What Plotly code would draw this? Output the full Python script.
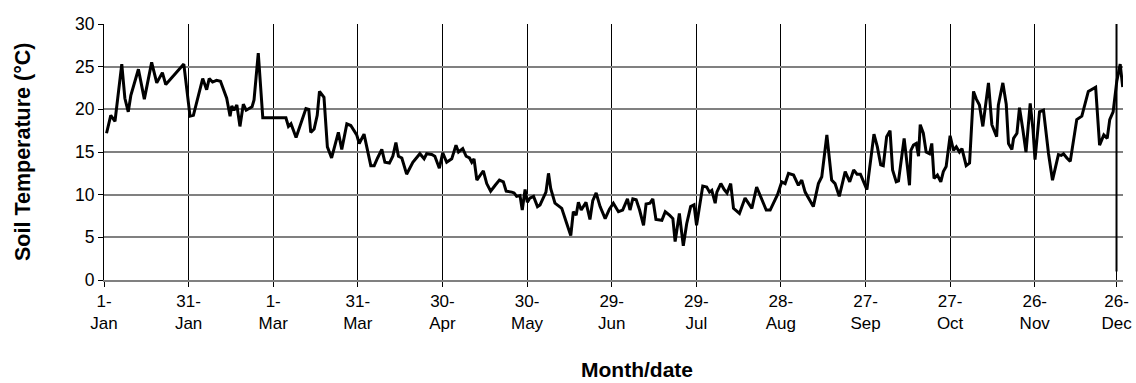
import plotly.graph_objects as go

# Daily soil temperature readings (day of year counted from 1 Jan, leap year)
days = [
    0.9, 2.4, 3.9, 6.3, 7.4, 8.6, 9.5, 12.2, 14.3, 16.9, 18.7, 20.7, 21.9, 28.3,
    30.5, 31.7, 35.0, 36.4, 37.3, 38.5, 39.9, 41.3, 43.5, 44.7, 45.3, 46.1, 47.1,
    48.2, 49.4, 50.4, 52.5, 53.2, 54.7, 56.3, 64.5, 65.4, 66.3, 68.1, 71.6, 72.6,
    73.3, 74.5, 75.6, 76.4, 78.0, 79.2, 80.7, 82.2, 83.1, 84.3, 86.1, 87.5, 89.6,
    90.5, 92.2, 94.6, 95.8, 97.0, 98.5, 99.6, 101.2, 102.4, 103.5, 104.4, 105.6,
    107.3, 109.5, 112.0, 113.5, 114.4, 116.2, 117.3, 118.9, 120.1, 121.5, 123.3,
    124.8, 125.7, 127.2, 128.4, 129.6, 130.4, 131.2, 132.2, 133.5, 134.5, 135.7,
    137.1, 138.7, 140.2, 141.6, 142.6, 144.6, 145.4, 146.3, 147.5, 148.3, 149.3,
    150.1, 151.0, 152.3, 153.7, 154.6, 156.0, 156.7, 157.6, 158.4, 159.9, 162.3,
    164.1, 165.5, 166.4, 167.4, 168.2, 169.2, 170.9, 172.3, 173.3, 174.5, 175.9,
    177.7, 179.2, 180.6, 182.4, 183.9, 185.6, 186.5, 187.5, 188.7, 189.9, 191.3,
    192.2, 193.6, 194.6, 195.7, 197.8, 199.0, 200.5, 201.7, 202.5, 204.0, 205.4,
    206.6, 208.0, 209.2, 210.1, 212.3, 213.7, 214.7, 215.5, 216.7, 217.3, 218.7,
    219.9, 220.9, 222.2, 223.2, 225.3, 227.3, 229.7, 231.4, 234.8, 236.2, 238.8,
    240.3, 241.5, 242.7, 244.5, 246.2, 247.4, 248.6, 251.5, 253.3, 254.5, 256.3,
    258.0, 259.2, 260.7, 262.8, 264.4, 265.8, 267.0, 268.2, 270.5, 273.0, 274.2,
    275.4, 276.3, 277.5, 278.7, 279.6, 280.9, 281.7, 283.7, 285.6, 286.1, 287.0,
    288.0, 288.8, 289.4, 290.5, 291.5, 292.7, 293.5, 294.3, 295.5, 296.7, 297.6,
    298.6, 300.0, 301.2, 302.2, 303.3, 304.2, 305.7, 306.9, 308.3, 309.3, 310.4,
    311.6, 313.6, 314.8, 316.5, 317.1, 318.7, 319.9, 320.7, 321.9, 322.5, 323.7,
    324.6, 325.8, 326.9, 328.4, 329.4, 330.1, 331.7, 333.1, 334.9, 336.3, 337.6,
    338.4, 339.4, 340.2, 341.4, 342.6, 344.9, 346.7, 349.0, 350.8, 351.6, 353.0,
    354.5, 355.7, 356.6, 357.8, 359.1, 360.3, 361.2,
]
temps = [
    17.2, 19.3, 18.6, 25.3, 21.3, 19.7, 21.6, 24.7, 21.2, 25.5, 23.1, 24.3, 22.9, 25.3,
    19.2, 19.3, 23.6, 22.3, 23.6, 23.2, 23.4, 23.3, 21.3, 19.2, 20.4, 19.9, 20.5,
    18.0, 20.6, 19.9, 20.3, 21.1, 26.6, 19.0, 19.0, 18.0, 18.3, 16.7, 20.1, 20.0,
    17.3, 17.7, 19.3, 22.1, 21.4, 15.6, 14.3, 16.2, 17.3, 15.3, 18.3, 18.1, 17.0,
    16.0, 17.1, 13.4, 13.4, 14.3, 15.3, 13.8, 13.7, 14.5, 16.1, 14.5, 14.3,
    12.4, 13.8, 14.8, 14.2, 14.8, 14.7, 14.5, 13.1, 14.9, 13.8, 14.2,
    15.8, 15.0, 15.4, 14.5, 14.3, 13.8, 14.2, 11.7, 12.3, 12.8, 11.3,
    10.4, 11.1, 11.7, 11.5, 10.4, 10.3, 10.2, 9.8, 9.9, 8.2, 10.6,
    9.1, 9.6, 9.8, 8.6, 8.8, 9.8, 10.3, 12.5, 10.7, 9.0, 8.4,
    6.6, 5.2, 8.0, 7.6, 9.1, 8.2, 9.1, 7.1, 9.3, 10.2, 8.6,
    7.2, 8.3, 9.0, 8.0, 8.2, 9.5, 8.2, 9.5, 9.4, 8.2, 6.4,
    8.9, 9.0, 9.5, 7.1, 7.0, 8.0, 7.6, 7.2, 4.5, 7.8, 4.0,
    6.6, 8.6, 8.8, 6.4, 11.0, 10.9, 10.3, 10.5, 9.0, 10.3, 11.3,
    10.6, 10.2, 11.3, 8.4, 7.8, 9.6, 8.4, 10.9, 8.2, 8.2, 10.0,
    11.5, 11.3, 12.5, 12.3, 11.1, 11.7, 10.3, 8.6, 11.3, 12.1, 17.0,
    11.7, 11.3, 9.8, 12.7, 11.5, 12.9, 12.4, 12.4, 10.6, 17.1, 15.6,
    13.5, 13.4, 16.8, 17.5, 12.9, 11.5, 11.6, 16.6, 11.1, 15.2, 15.8,
    16.0, 14.5, 18.2, 17.2, 15.0, 14.8, 16.0, 11.9, 12.3, 11.5, 12.7,
    13.3, 16.9, 15.2, 15.6, 15.0, 15.4, 13.4, 13.7, 22.1, 21.2, 20.5,
    18.0, 23.1, 18.2, 16.8, 20.5, 23.1, 20.6, 16.0, 15.3, 16.6, 17.2,
    20.2, 17.6, 15.0, 20.7, 17.6, 14.1, 19.7, 19.9, 14.8, 11.7, 13.7,
    14.7, 14.6, 14.8, 14.3, 13.9, 18.8, 19.2, 22.1, 22.4, 22.6, 15.8,
    17.0, 16.6, 18.8, 19.7, 23.3, 25.3, 22.6,
]

# Vertical marker line on 26 Dec
marker_days = [359, 359]
marker_temps = [30, 1]

# Date axis: a labelled tick every 30 days
tick_days = [0, 30, 60, 90, 120, 150, 180, 210, 240, 270, 300, 330, 359]
tick_labels = ["1-<br>Jan", "31-<br>Jan", "1-<br>Mar", "31-<br>Mar", "30-<br>Apr",
               "30-<br>May", "29-<br>Jun", "29-<br>Jul", "28-<br>Aug", "27-<br>Sep",
               "27-<br>Oct", "26-<br>Nov", "26-<br>Dec"]

FONT = "Arial, Liberation Sans, sans-serif"

fig = go.Figure()
fig.add_trace(go.Scatter(
    x=days, y=temps, mode="lines",
    line=dict(color="black", width=3),
    showlegend=False,
))
fig.add_trace(go.Scatter(
    x=marker_days, y=marker_temps, mode="lines",
    line=dict(color="black", width=2),
    showlegend=False,
))

fig.update_layout(
    width=1136, height=383,
    margin=dict(l=104, r=13, t=24, b=103),
    paper_bgcolor="white", plot_bgcolor="white",
    font=dict(family=FONT, size=17, color="black"),
    xaxis=dict(
        range=[0, 361.3],
        tickvals=tick_days, ticktext=tick_labels,
        showgrid=True, gridcolor="black", gridwidth=1,
        ticks="outside", ticklen=5, tickcolor="black",
        showline=True, linecolor="#808080", linewidth=1.5,
        zeroline=False, automargin=False,
        tickfont=dict(size=17),
    ),
    yaxis=dict(
        range=[0, 30], dtick=5,
        showgrid=True, gridcolor="#808080", gridwidth=1.5,
        ticks="outside", ticklen=5, tickcolor="black",
        showline=True, linecolor="black", linewidth=1,
        zeroline=False, automargin=False,
        tickfont=dict(size=17.5),
    ),
    annotations=[
        dict(text="<b>Soil Temperature (°C)</b>", x=0, y=0.5,
             xref="paper", yref="paper", xanchor="center", yanchor="middle",
             xshift=-81, textangle=-90, showarrow=False,
             font=dict(size=21.5, family=FONT)),
        dict(text="<b>Month/date</b>", x=0.523, y=0,
             xref="paper", yref="paper", xanchor="center", yanchor="middle",
             yshift=-89, showarrow=False,
             font=dict(size=21, family=FONT)),
    ],
)

fig.write_html("out.html")
